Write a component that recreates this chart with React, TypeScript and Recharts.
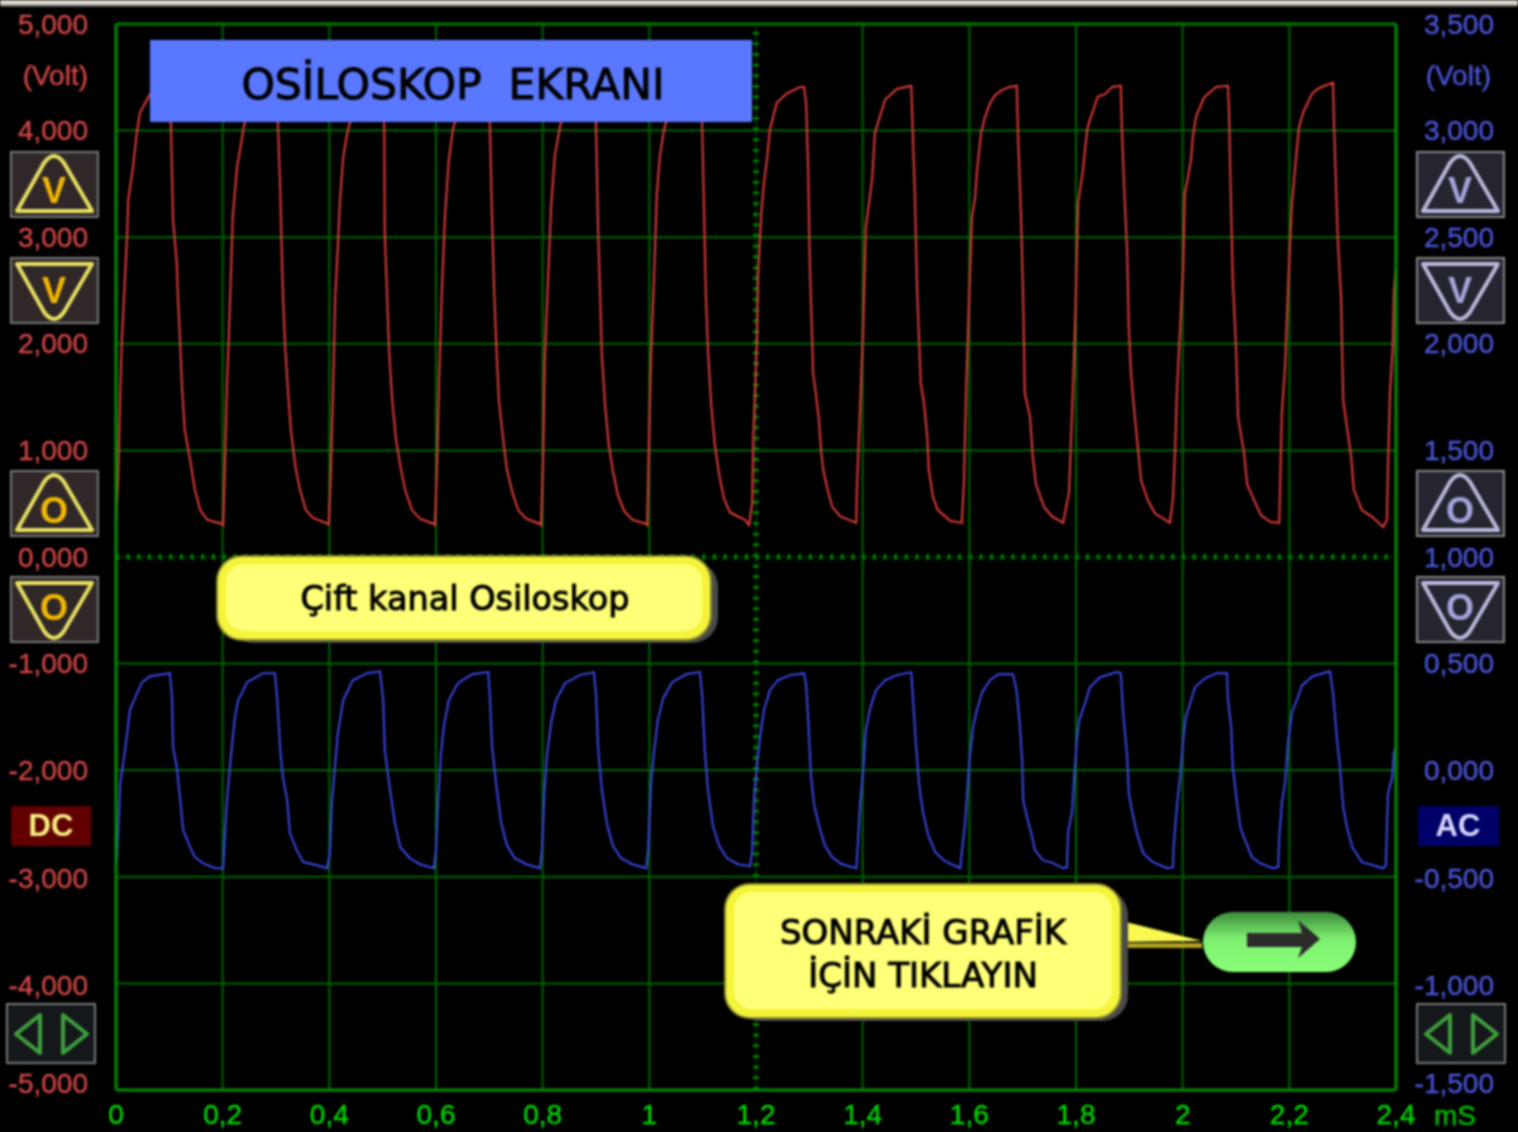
import React from "react";
import { CartesianGrid, Line, LineChart, ReferenceLine, XAxis, YAxis } from "recharts";

const timeTicks = [0, 0.2, 0.4, 0.6, 0.8, 1, 1.2, 1.4, 1.6, 1.8, 2, 2.2, 2.4];
const leftTicks = [5, 4, 3, 2, 1, 0, -1, -2, -3, -4, -5];
const rightTicks = [3.5, 3, 2.5, 2, 1.5, 1, 0.5, 0, -0.5, -1, -1.5];
const gridTimes = [0, 0.2, 0.4, 0.6, 0.8, 1, 1.4, 1.6, 1.8, 2, 2.2];
const gridVolts = [4, 3, 2, 1, -1, -2, -3, -4];

// [mS, volt], one row per cycle
const redTrace = [
  [0, 0.3], [0.004, 0.72], [0.008, 1.57], [0.011, 2.04], [0.015, 2.43], [0.021, 3.04], [0.023, 3.35], [0.032, 3.66], [0.039, 3.98], [0.045, 4.17], [0.056, 4.27], [0.068, 4.38], [0.083, 4.4], [0.101, 4.42], [0.103, 4.05], [0.107, 3.16], [0.114, 2.76], [0.116, 2.46], [0.12, 2.04], [0.124, 1.57], [0.129, 1.19], [0.139, 0.91], [0.148, 0.63], [0.158, 0.44], [0.171, 0.35], [0.199, 0.31],
  [0.201, 0.3], [0.204, 0.82], [0.208, 1.61], [0.212, 2.13], [0.214, 2.43], [0.219, 3.19], [0.227, 3.66], [0.234, 3.86], [0.24, 4.05], [0.251, 4.21], [0.266, 4.32], [0.285, 4.38], [0.302, 4.41], [0.304, 4.01], [0.308, 3.44], [0.311, 2.81], [0.313, 2.48], [0.317, 1.99], [0.323, 1.52], [0.328, 1.19], [0.336, 0.86], [0.345, 0.63], [0.356, 0.44], [0.369, 0.37], [0.398, 0.31],
  [0.399, 0.3], [0.403, 0.82], [0.407, 1.57], [0.411, 2.43], [0.416, 2.91], [0.42, 3.35], [0.426, 3.75], [0.433, 3.96], [0.439, 4.08], [0.452, 4.24], [0.467, 4.33], [0.486, 4.39], [0.501, 4.42], [0.503, 4.01], [0.504, 3.04], [0.508, 2.5], [0.512, 1.94], [0.518, 1.47], [0.525, 1.1], [0.533, 0.86], [0.542, 0.63], [0.555, 0.44], [0.57, 0.36], [0.596, 0.31],
  [0.598, 0.3], [0.602, 0.86], [0.606, 1.71], [0.611, 2.5], [0.617, 3.21], [0.624, 3.72], [0.632, 4.02], [0.641, 4.17], [0.654, 4.31], [0.673, 4.38], [0.699, 4.42], [0.701, 4.05], [0.705, 3.21], [0.709, 2.5], [0.713, 1.99], [0.718, 1.47], [0.726, 1.1], [0.733, 0.82], [0.743, 0.61], [0.754, 0.44], [0.769, 0.36], [0.795, 0.31],
  [0.797, 0.3], [0.801, 0.96], [0.804, 1.85], [0.81, 2.6], [0.816, 3.3], [0.823, 3.77], [0.833, 4.05], [0.844, 4.21], [0.857, 4.32], [0.876, 4.38], [0.898, 4.42], [0.9, 4.05], [0.904, 3.07], [0.908, 2.41], [0.911, 1.89], [0.917, 1.43], [0.924, 1.05], [0.932, 0.8], [0.941, 0.58], [0.953, 0.43], [0.968, 0.35], [0.994, 0.31],
  [0.996, 0.3], [0.999, 1.0], [1.003, 1.85], [1.009, 2.65], [1.014, 3.4], [1.02, 3.77], [1.028, 4.02], [1.039, 4.19], [1.052, 4.31], [1.071, 4.38], [1.097, 4.42], [1.099, 4.05], [1.103, 3.16], [1.106, 2.46], [1.11, 1.94], [1.116, 1.43], [1.123, 1.05], [1.131, 0.77], [1.14, 0.55], [1.151, 0.42], [1.166, 0.38], [1.179, 0.35],
  [1.187, 0.3], [1.193, 0.51], [1.195, 1.13], [1.202, 2.06], [1.204, 2.66], [1.21, 3.23], [1.215, 3.51], [1.221, 3.75], [1.226, 4.01], [1.239, 4.26], [1.258, 4.35], [1.283, 4.41], [1.29, 4.41], [1.294, 4.26], [1.298, 3.6], [1.301, 2.72], [1.305, 2.1], [1.307, 1.73], [1.313, 1.5], [1.318, 1.29], [1.322, 1.0], [1.326, 0.82], [1.333, 0.66], [1.343, 0.47], [1.358, 0.38], [1.388, 0.32],
  [1.389, 0.61], [1.395, 1.38], [1.401, 2.16], [1.406, 3.1], [1.412, 3.32], [1.418, 3.56], [1.423, 3.98], [1.442, 4.29], [1.464, 4.39], [1.491, 4.42], [1.493, 4.13], [1.498, 3.38], [1.502, 2.53], [1.506, 2.01], [1.509, 1.63], [1.515, 1.44], [1.521, 1.13], [1.524, 0.82], [1.532, 0.56], [1.541, 0.44], [1.564, 0.34], [1.586, 0.32],
  [1.59, 0.72], [1.594, 1.57], [1.599, 2.34], [1.605, 3.19], [1.611, 3.38], [1.614, 3.6], [1.622, 3.98], [1.629, 4.12], [1.639, 4.26], [1.648, 4.33], [1.661, 4.38], [1.676, 4.41], [1.689, 4.42], [1.691, 4.01], [1.697, 3.19], [1.701, 2.41], [1.704, 1.54], [1.714, 1.31], [1.719, 0.94], [1.725, 0.68], [1.74, 0.47], [1.755, 0.38], [1.776, 0.32],
  [1.787, 0.61], [1.791, 1.14], [1.796, 1.82], [1.8, 2.5], [1.804, 3.32], [1.813, 3.63], [1.821, 4.01], [1.826, 4.1], [1.841, 4.32], [1.854, 4.34], [1.868, 4.41], [1.884, 4.42], [1.886, 4.02], [1.89, 3.51], [1.896, 2.85], [1.899, 2.16], [1.903, 1.73], [1.909, 1.38], [1.916, 1.03], [1.922, 0.72], [1.935, 0.53], [1.948, 0.41], [1.976, 0.32],
  [1.982, 0.55], [1.986, 1.03], [1.989, 1.52], [1.995, 2.13], [2.001, 2.72], [2.004, 3.41], [2.01, 3.56], [2.016, 3.74], [2.019, 3.94], [2.025, 4.13], [2.04, 4.31], [2.051, 4.36], [2.063, 4.41], [2.085, 4.42], [2.087, 4.17], [2.089, 3.66], [2.094, 2.6], [2.1, 1.97], [2.104, 1.31], [2.115, 0.98], [2.121, 0.68], [2.136, 0.51], [2.147, 0.39], [2.164, 0.33], [2.181, 0.32],
  [2.183, 0.72], [2.186, 1.35], [2.192, 1.78], [2.196, 2.32], [2.201, 2.91], [2.205, 3.32], [2.211, 3.66], [2.218, 4.03], [2.226, 4.17], [2.243, 4.35], [2.256, 4.4], [2.282, 4.45], [2.284, 4.02], [2.288, 3.41], [2.291, 2.97], [2.297, 2.44], [2.301, 1.47], [2.308, 1.22], [2.316, 0.94], [2.321, 0.63], [2.336, 0.44], [2.357, 0.37], [2.376, 0.28], [2.383, 0.35],
  [2.385, 0.84], [2.389, 1.57], [2.394, 1.97], [2.396, 2.48], [2.4, 2.74],
];

const blueTrace = [
  [0, -0.455], [0.002, -0.413], [0.008, -0.061], [0.015, 0.061], [0.021, 0.174], [0.026, 0.281], [0.036, 0.342], [0.049, 0.413], [0.064, 0.441], [0.101, 0.455], [0.105, 0.342], [0.107, 0.108], [0.114, 0.014], [0.12, -0.127], [0.126, -0.281], [0.139, -0.361], [0.148, -0.408], [0.163, -0.436], [0.186, -0.46], [0.201, -0.46],
  [0.203, -0.361], [0.208, -0.141], [0.216, 0.08], [0.223, 0.249], [0.229, 0.328], [0.246, 0.413], [0.276, 0.455], [0.298, 0.455], [0.302, 0.342], [0.308, 0.094], [0.313, -0.033], [0.321, -0.141], [0.326, -0.295], [0.339, -0.375], [0.351, -0.431], [0.377, -0.446], [0.396, -0.46],
  [0.401, -0.389], [0.405, -0.141], [0.411, 0.033], [0.416, 0.174], [0.426, 0.328], [0.444, 0.422], [0.471, 0.455], [0.495, 0.464], [0.501, 0.328], [0.504, 0.094], [0.512, -0.061], [0.523, -0.249], [0.533, -0.361], [0.551, -0.413], [0.57, -0.441], [0.596, -0.46],
  [0.6, -0.375], [0.604, -0.141], [0.609, 0.07], [0.615, 0.211], [0.624, 0.328], [0.641, 0.408], [0.668, 0.45], [0.698, 0.46], [0.701, 0.352], [0.705, 0.117], [0.713, -0.07], [0.722, -0.244], [0.733, -0.352], [0.748, -0.413], [0.769, -0.441], [0.795, -0.46],
  [0.799, -0.366], [0.803, -0.117], [0.808, 0.07], [0.816, 0.225], [0.825, 0.328], [0.842, 0.408], [0.87, 0.446], [0.896, 0.46], [0.9, 0.352], [0.904, 0.103], [0.911, -0.094], [0.921, -0.258], [0.932, -0.356], [0.947, -0.413], [0.968, -0.441], [0.994, -0.46],
  [0.998, -0.366], [1.003, -0.07], [1.009, 0.094], [1.016, 0.235], [1.026, 0.338], [1.043, 0.413], [1.069, 0.45], [1.095, 0.46], [1.099, 0.352], [1.104, 0.094], [1.11, -0.094], [1.119, -0.258], [1.131, -0.356], [1.146, -0.413], [1.166, -0.441], [1.189, -0.45],
  [1.193, -0.375], [1.196, -0.141], [1.202, 0.023], [1.208, 0.164], [1.215, 0.281], [1.226, 0.375], [1.241, 0.422], [1.264, 0.446], [1.29, 0.455], [1.294, 0.399], [1.298, 0.235], [1.303, -0.023], [1.309, -0.164], [1.318, -0.258], [1.329, -0.352], [1.343, -0.408], [1.361, -0.441], [1.388, -0.46],
  [1.391, -0.352], [1.395, -0.164], [1.401, 0.0], [1.406, 0.188], [1.414, 0.291], [1.425, 0.375], [1.442, 0.422], [1.464, 0.446], [1.491, 0.46], [1.494, 0.352], [1.5, 0.117], [1.506, -0.07], [1.513, -0.197], [1.523, -0.305], [1.536, -0.385], [1.554, -0.427], [1.583, -0.46],
  [1.586, -0.385], [1.592, -0.249], [1.596, -0.103], [1.601, 0.061], [1.607, 0.202], [1.614, 0.281], [1.624, 0.366], [1.639, 0.422], [1.654, 0.45], [1.682, 0.45], [1.689, 0.366], [1.695, 0.202], [1.699, 0.047], [1.701, -0.141], [1.708, -0.22], [1.718, -0.314], [1.723, -0.375], [1.738, -0.422], [1.757, -0.436], [1.776, -0.46], [1.783, -0.455],
  [1.785, -0.295], [1.793, -0.188], [1.796, -0.056], [1.802, 0.155], [1.806, 0.235], [1.817, 0.314], [1.826, 0.389], [1.845, 0.436], [1.877, 0.46], [1.884, 0.455], [1.888, 0.281], [1.896, 0.061], [1.899, -0.108], [1.905, -0.188], [1.914, -0.295], [1.926, -0.389], [1.944, -0.431], [1.971, -0.46], [1.982, -0.455],
  [1.983, -0.361], [1.989, -0.174], [1.995, -0.033], [2.001, 0.141], [2.006, 0.249], [2.014, 0.314], [2.023, 0.389], [2.042, 0.431], [2.064, 0.455], [2.083, 0.455], [2.085, 0.328], [2.091, 0.202], [2.094, 0.014], [2.102, -0.155], [2.108, -0.267], [2.117, -0.328], [2.13, -0.408], [2.145, -0.436], [2.169, -0.46], [2.179, -0.455],
  [2.181, -0.314], [2.186, -0.155], [2.192, -0.061], [2.198, 0.141], [2.205, 0.272], [2.214, 0.328], [2.224, 0.399], [2.244, 0.441], [2.276, 0.464], [2.282, 0.361], [2.289, 0.155], [2.295, 0.014], [2.301, -0.174], [2.308, -0.267], [2.318, -0.361], [2.336, -0.431], [2.357, -0.446], [2.376, -0.46], [2.381, -0.446],
  [2.383, -0.267], [2.385, -0.108], [2.393, -0.033], [2.396, 0.08], [2.4, 0.117],
];

const redData = redTrace.map(([t, v]) => ({ t, v }));
const blueData = blueTrace.map(([t, v]) => ({ t, v }));

const SANS = "'Liberation Sans', Arial, sans-serif";
const DEJAVU = "'DejaVu Sans', sans-serif";
const RED_TEXT = "#d24545";
const BLUE_TEXT = "#4a55d8";

const volt = (v: number) => v.toFixed(3).replace(".", ",");

function VoltTick({ x, y, payload, fill, bottom, nudged, endX }: any) {
  // the lower labels sit slightly off their grid lines in the original
  const dy = payload.value === bottom ? -7 : nudged.includes(payload.value) ? 2 : 0;
  return (
    <text x={endX ?? x} y={y + dy} fill={fill} stroke={fill} strokeWidth={0.4} fontFamily={SANS} fontSize={28} textAnchor="end" dominantBaseline="central">
      {volt(payload.value)}
    </text>
  );
}

function StepButton({ x, y, up, letter, box, stroke, ink, edge }: any) {
  const tri = up
    ? `M${x + 33} ${y + 11} Q${x + 43} ${y - 3} ${x + 53} ${y + 11} L${x + 81} ${y + 59} H${x + 6} Z`
    : `M${x + 33} ${y + 54} Q${x + 43} ${y + 68} ${x + 53} ${y + 54} L${x + 81} ${y + 6} H${x + 6} Z`;
  const ly = up ? (letter === "V" ? y + 38 : y + 39) : letter === "V" ? y + 32 : y + 30;
  return (
    <g>
      <rect x={x} y={y} width={87} height={65} fill={box} stroke={edge} strokeWidth={2} />
      <path d={tri} fill="none" stroke={stroke} strokeWidth={4} strokeLinejoin="round" />
      <text x={x + 43} y={ly} fill={ink} fontFamily={SANS} fontWeight={700} fontSize={36} textAnchor="middle" dominantBaseline="central">
        {letter}
      </text>
    </g>
  );
}

function NavButton({ x, y, w }: any) {
  return (
    <g>
      <rect x={x} y={y} width={w} height={59} fill="#15181a" stroke="#777" strokeWidth={2} />
      <polygon points={`${x + 9},${y + 30} ${x + 33},${y + 11} ${x + 33},${y + 49}`} fill="none" stroke="#3f9f3f" strokeWidth={4} strokeLinejoin="round" />
      <polygon points={`${x + 56},${y + 11} ${x + 56},${y + 49} ${x + 80},${y + 30}`} fill="none" stroke="#3f9f3f" strokeWidth={4} strokeLinejoin="round" />
    </g>
  );
}

function Callout({ x, y, w, h }: any) {
  return (
    <g>
      <rect x={x + 8} y={y + 4} width={w} height={h} rx={26} fill="#4a4a4a" />
      <rect x={x - 2} y={y - 2} width={w + 4} height={h + 4} rx={26} fill="#8a8a30" />
      <rect x={x} y={y} width={w} height={h} rx={24} fill="#f4f43a" />
      <rect x={x + 8} y={y + 7} width={w - 16} height={h - 15} rx={18} fill="#ffff78" />
    </g>
  );
}

export default function App() {
  return (
    <div style={{ position: "absolute", left: 0, top: 0, width: 1518, height: 1132, background: "#000", overflow: "hidden" }}>
      <div style={{ position: "absolute", inset: 0, filter: "blur(0.9px)" }}>
        <LineChart width={1518} height={1132} data={redData} margin={{ top: 24, right: 0, bottom: 0, left: 0 }}>
          <CartesianGrid stroke="#006600" strokeWidth={2} horizontalValues={gridVolts} verticalValues={gridTimes} yAxisId="left" />
          <XAxis
            dataKey="t"
            type="number"
            domain={[0, 2.4]}
            ticks={timeTicks}
            interval={0}
            height={42}
            axisLine={{ stroke: "#009000", strokeWidth: 3 }}
            tickLine={false}
            tickMargin={8}
            tickFormatter={(v: number) => String(v).replace(".", ",")}
            tick={{ fill: "#00d800", stroke: "#00d800", strokeWidth: 0.4, fontSize: 28, fontFamily: SANS }}
          />
          <YAxis
            yAxisId="left"
            domain={[-5, 5]}
            ticks={leftTicks}
            interval={0}
            width={116}
            axisLine={{ stroke: "#009000", strokeWidth: 3 }}
            tickLine={false}
            tick={<VoltTick fill={RED_TEXT} bottom={-5} nudged={[-3, -4]} endX={88} />}
          />
          <YAxis
            yAxisId="right"
            orientation="right"
            domain={[-1.5, 3.5]}
            ticks={rightTicks}
            interval={0}
            width={122}
            axisLine={{ stroke: "#009000", strokeWidth: 3 }}
            tickLine={false}
            tick={<VoltTick fill={BLUE_TEXT} bottom={-1.5} nudged={[-0.5, -1]} endX={1494} />}
          />
          <ReferenceLine yAxisId="left" y={5} stroke="#007a00" strokeWidth={3} />
          <ReferenceLine yAxisId="left" y={0} stroke="#004d00" strokeWidth={1} />
          <ReferenceLine yAxisId="left" y={0} stroke="#007a00" strokeWidth={6} strokeDasharray="3 7.66" />
          <ReferenceLine yAxisId="left" x={1.2} stroke="#004d00" strokeWidth={1} />
          <ReferenceLine yAxisId="left" x={1.2} stroke="#007a00" strokeWidth={6} strokeDasharray="3 7.66" />
          <Line yAxisId="left" data={redData} dataKey="v" type="linear" stroke="#e63c3c" strokeWidth={2} dot={false} isAnimationActive={false} />
          <Line yAxisId="right" data={blueData} dataKey="v" type="linear" stroke="#3c48ea" strokeWidth={2} dot={false} isAnimationActive={false} />
        </LineChart>

        <svg width={1518} height={1132} style={{ position: "absolute", left: 0, top: 0, pointerEvents: "none" }}>
          <defs>
            <linearGradient id="pill" x1="0" y1="0" x2="0" y2="1">
              <stop offset="0" stopColor="#3c8a3c" />
              <stop offset="0.45" stopColor="#7ef070" />
              <stop offset="1" stopColor="#88ff78" />
            </linearGradient>
          </defs>
          <rect x={0} y={0} width={1518} height={5} fill="#d9d5ca" />
          <rect x={0} y={5} width={1518} height={2} fill="#555" />

          <text x={88} y={75} fill={RED_TEXT} stroke={RED_TEXT} strokeWidth={0.4} fontFamily={SANS} fontSize={28} textAnchor="end" dominantBaseline="central">(Volt)</text>
          <text x={1491} y={75} fill={BLUE_TEXT} stroke={BLUE_TEXT} strokeWidth={0.4} fontFamily={SANS} fontSize={28} textAnchor="end" dominantBaseline="central">(Volt)</text>
          <text x={1455} y={1115} fill="#00c000" stroke="#00c000" strokeWidth={0.4} fontFamily={SANS} fontSize={28} textAnchor="middle" dominantBaseline="central">mS</text>

          <rect x={150} y={40} width={602} height={82} fill="#5a78ff" />
          <text x={453} y={84} fill="#000" stroke="#000" strokeWidth={1} fontFamily={DEJAVU} fontSize={42.5} textAnchor="middle" dominantBaseline="central" style={{ whiteSpace: "pre" }}>
            {"OSİLOSKOP  EKRANI"}
          </text>

          <Callout x={218} y={557} w={492} h={82} />
          <text x={465} y={598} fill="#000" stroke="#000" strokeWidth={1} fontFamily={DEJAVU} fontSize={33.5} textAnchor="middle" dominantBaseline="central">
            Çift kanal Osiloskop
          </text>

          <rect x={1124} y={943} width={78} height={5} fill="#b0a020" />
          <polygon points="1118,920 1202,941 1118,942" fill="#f8f850" />
          <Callout x={726} y={885} w={394} h={132} />
          <text x={923} y={932} fill="#000" stroke="#000" strokeWidth={1} fontFamily={DEJAVU} fontSize={34} textAnchor="middle" dominantBaseline="central">
            SONRAKİ GRAFİK
          </text>
          <text x={923} y={975} fill="#000" stroke="#000" strokeWidth={1} fontFamily={DEJAVU} fontSize={34} textAnchor="middle" dominantBaseline="central">
            İÇİN TIKLAYIN
          </text>

          <rect x={1203} y={912} width={153} height={60} rx={30} fill="url(#pill)" />
          <path d="M1247 933 H1302 L1298 920 L1320 939 L1298 958 L1302 947 H1247 Z" fill="#2b2b2b" />

          <StepButton x={11} y={152} up letter="V" box="#302828" stroke="#e8e060" ink="#f2b800" edge="#777" />
          <StepButton x={11} y={258} letter="V" box="#302828" stroke="#e8e060" ink="#f2b800" edge="#777" />
          <StepButton x={11} y={471} up letter="O" box="#302828" stroke="#e8e060" ink="#f2b800" edge="#777" />
          <StepButton x={11} y={577} letter="O" box="#302828" stroke="#e8e060" ink="#f2b800" edge="#777" />
          <StepButton x={1417} y={152} up letter="V" box="#24252f" stroke="#b8b8dc" ink="#a4a4dc" edge="#888" />
          <StepButton x={1417} y={258} letter="V" box="#24252f" stroke="#b8b8dc" ink="#a4a4dc" edge="#888" />
          <StepButton x={1417} y={471} up letter="O" box="#24252f" stroke="#b8b8dc" ink="#a4a4dc" edge="#888" />
          <StepButton x={1417} y={577} letter="O" box="#24252f" stroke="#b8b8dc" ink="#a4a4dc" edge="#888" />

          <NavButton x={7} y={1004} w={88} />
          <NavButton x={1417} y={1004} w={88} />

          <rect x={11} y={806} width={80} height={40} fill="#600000" />
          <text x={51} y={825} fill="#f8f080" fontFamily={SANS} fontWeight={700} fontSize={31} textAnchor="middle" dominantBaseline="central">DC</text>
          <rect x={1418} y={806} width={81} height={40} fill="#000068" />
          <text x={1458} y={825} fill="#d8d8ff" fontFamily={SANS} fontWeight={700} fontSize={31} textAnchor="middle" dominantBaseline="central">AC</text>
        </svg>
      </div>
    </div>
  );
}
